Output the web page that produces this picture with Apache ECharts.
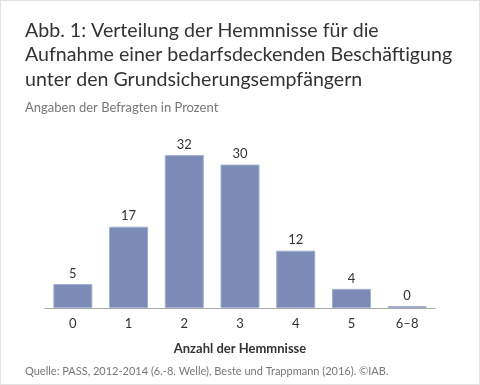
<!DOCTYPE html>
<html><head><meta charset="utf-8">
<script src="https://cdn.jsdelivr.net/npm/echarts@6/dist/echarts.min.js"></script>
<style>
html,body{margin:0;padding:0;background:#fff;}
#c{width:478px;height:383px;border:1px solid #e2e2e2;}
</style></head>
<body><div id="c"></div>
<script>
const titleLines = ["Abb. 1: Verteilung der Hemmnisse für die","Aufnahme einer bedarfsdeckenden Beschäftigung","unter den Grundsicherungsempfängern"];
const subtitle = "Angaben der Befragten in Prozent";
const source = "Quelle: PASS, 2012-2014 (6.-8. Welle), Beste und Trappmann (2016). ©IAB.";
const categories = ["0","1","2","3","4","5","6–8"];
const values = [5, 17, 32, 30, 12, 4, 0.4];
const axisName = "Anzahl der Hemmnisse";

const FONT = "Lato";
const chart = echarts.init(document.getElementById('c'), null, {renderer:'canvas'});
chart.setOption({
  animation:false,
  textStyle:{fontFamily:FONT},
  title:[
    {text:titleLines.join("\n"), left:19, top:12, textStyle:{fontFamily:FONT,fontSize:19.6,fontWeight:'normal',color:'#333',lineHeight:24.5}},
    {text:subtitle, left:19, top:95, textStyle:{fontFamily:FONT,fontSize:13,fontWeight:'normal',color:'#777'}},
    {text:source, left:19, top:360, textStyle:{fontFamily:FONT,fontSize:11,fontWeight:'normal',color:'#777'}}
  ],
  grid:{left:44, right:44, top:154, bottom:76, containLabel:false},
  xAxis:{type:'category', data:categories,
    axisLine:{lineStyle:{color:'#aaa',width:1}}, axisTick:{show:false},
    axisLabel:{color:'#333',fontSize:13,margin:9,fontFamily:FONT},
    name:axisName, nameLocation:'middle', nameGap:34,
    nameTextStyle:{color:'#333',fontSize:13,fontWeight:'bold',fontFamily:FONT}},
  yAxis:{type:'value', min:0, max:32, show:false, splitLine:{show:false}},
  series:[{type:'bar', data:values, barCategoryGap:'30%',
    itemStyle:{color:'#7b8bb5', borderColor:'#a3aed0', borderWidth:1},
    label:{show:true, position:'top', distance:4, color:'#333', fontSize:13, fontFamily:FONT,
      formatter:p=>Math.round(p.value)}}]
});
</script></body></html>
